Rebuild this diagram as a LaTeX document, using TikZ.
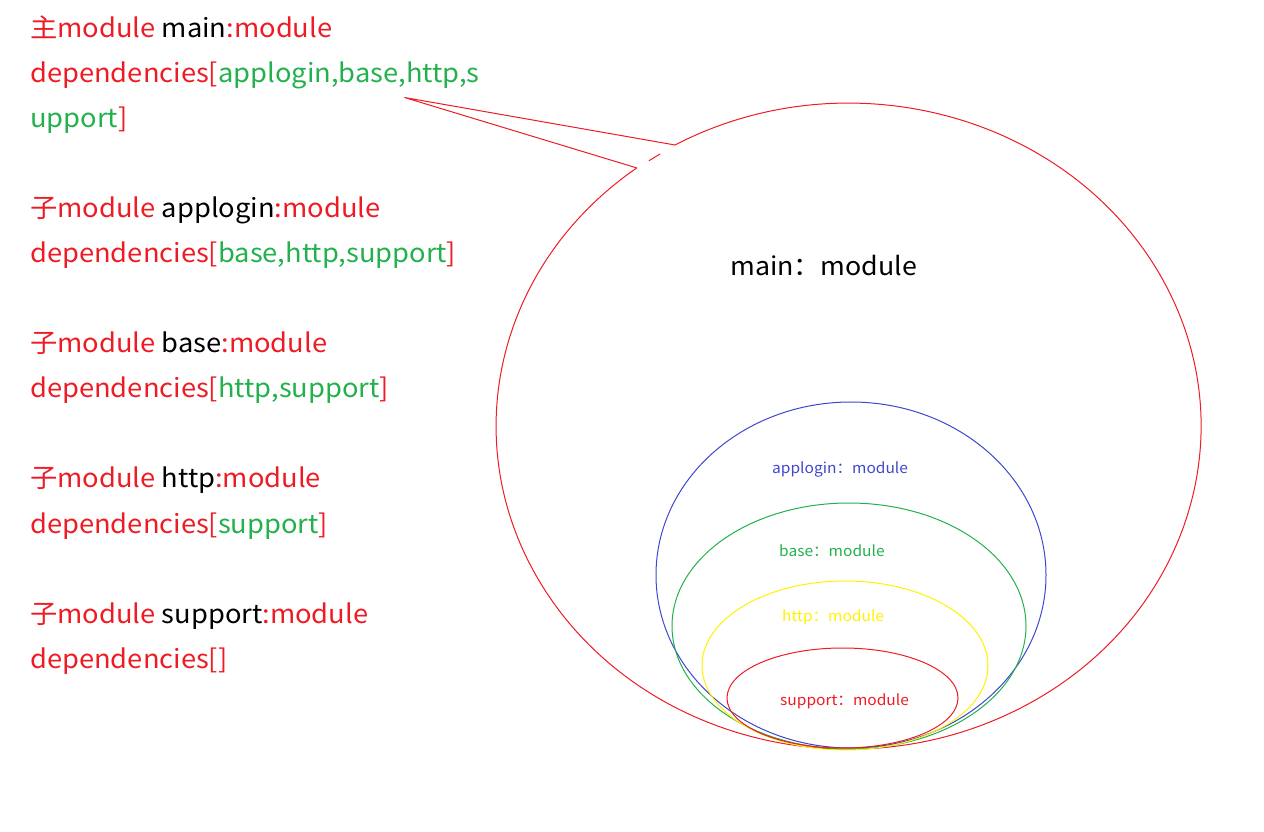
\documentclass[tikz,border=0pt]{standalone}
\usepackage{fontspec}
\setmainfont[FakeStretch=1.05]{Noto Sans CJK SC}
\definecolor{cred}{RGB}{237,28,36}
\definecolor{cgreen}{RGB}{34,177,76}
\definecolor{cblue}{RGB}{63,72,204}
\definecolor{cyellow}{RGB}{255,242,0}
\tikzset{
  lefttext/.style={anchor=base west,inner sep=0pt,font=\fontsize{26}{26}\selectfont},
  biglabel/.style={anchor=base west,inner sep=0pt,font=\fontsize{25.5}{26}\selectfont},
  smalllabel/.style={anchor=base west,inner sep=0pt,font=\fontsize{14.8}{15}\selectfont},
  ring/.style={line width=1pt}
}
\begin{document}
\begin{tikzpicture}[x=1pt,y=1pt]
\useasboundingbox (0,0) rectangle (1264,831);
% left text
\node[lefttext] (t1a) at (30,793) {\textcolor{cred}{主module} main\textcolor{cred}{:module}};
\node[lefttext] (t1b) at (30,748) {\textcolor{cred}{dependencies[}\textcolor{cgreen}{applogin,base,http,s}};
\node[lefttext] (t1c) at (30,703) {\textcolor{cgreen}{upport}\textcolor{cred}{]}};
\node[lefttext] (t2a) at (30,613) {\textcolor{cred}{子module} applogin\textcolor{cred}{:module}};
\node[lefttext] (t2b) at (30,568) {\textcolor{cred}{dependencies[}\textcolor{cgreen}{base,http,support}\textcolor{cred}{]}};
\node[lefttext] (t3a) at (30,478) {\textcolor{cred}{子module} base\textcolor{cred}{:module}};
\node[lefttext] (t3b) at (30,433) {\textcolor{cred}{dependencies[}\textcolor{cgreen}{http,support}\textcolor{cred}{]}};
\node[lefttext] (t4a) at (30,343) {\textcolor{cred}{子module} http\textcolor{cred}{:module}};
\node[lefttext] (t4b) at (30,298) {\textcolor{cred}{dependencies[}\textcolor{cgreen}{support}\textcolor{cred}{]}};
\node[lefttext] (t5a) at (30,208) {\textcolor{cred}{子module} support\textcolor{cred}{:module}};
\node[lefttext] (t5b) at (30,163) {\textcolor{cred}{dependencies[]}};
% callout ellipse
\coordinate (tip) at (404.5,733.5);
\coordinate (cs) at (675,686);
\coordinate (ce) at (637,663);
\draw[ring,cred] (ce) -- (tip) -- (cs) arc[start angle=119.5,end angle=-233.1,x radius=352.5,y radius=323];
\draw[ring,cred] (848.5,404) ++(122.3:352.5 and 323) arc[start angle=122.3,end angle=124.5,x radius=352.5,y radius=323];
% inner ellipses
\draw[ring,cblue] (851,256) ellipse[x radius=195,y radius=173];
\draw[ring,cgreen] (849,205) ellipse[x radius=177,y radius=123];
\draw[ring,cyellow] (845,165.5) ellipse[x radius=143,y radius=84.5];
\draw[ring,cred] (842.5,133) ellipse[x radius=115.5,y radius=50];
% labels
\node[biglabel] (lmain) at (730,555) {main：module};
\node[smalllabel,text=cblue] (lapp) at (772,357) {applogin：module};
\node[smalllabel,text=cgreen] (lbase) at (779,274) {base：module};
\node[smalllabel,text=cyellow] (lhttp) at (782,210) {http：module};
\node[smalllabel,text=cred] (lsup) at (780,126) {support：module};
\end{tikzpicture}
\end{document}
